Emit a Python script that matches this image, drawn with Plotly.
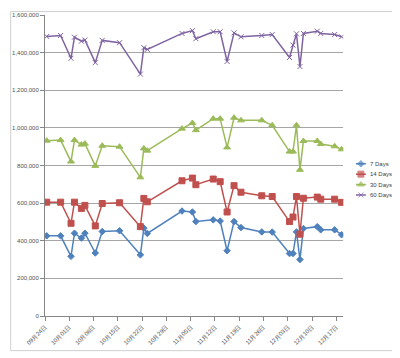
import pandas as pd
import plotly.graph_objects as go

dates = ["2012-09-24", "2012-09-28", "2012-10-01", "2012-10-02", "2012-10-04", "2012-10-05",
         "2012-10-08", "2012-10-10", "2012-10-15", "2012-10-21", "2012-10-22", "2012-10-23",
         "2012-11-02", "2012-11-05", "2012-11-06", "2012-11-11", "2012-11-13", "2012-11-15",
         "2012-11-17", "2012-11-19", "2012-11-25", "2012-11-28", "2012-12-03", "2012-12-04",
         "2012-12-05", "2012-12-06", "2012-12-07", "2012-12-11", "2012-12-12", "2012-12-16",
         "2012-12-18"]

days7 = [426000, 426000, 317000, 440000, 414000, 440000, 335000, 449000, 453000, 325000, 467000,
         439000, 558000, 553000, 502000, 511000, 505000, 347000, 502000, 470000, 447000, 446000,
         332000, 332000, 447000, 300000, 465000, 475000, 458000, 458000, 432000]

days14 = [605000, 605000, 493000, 605000, 572000, 588000, 479000, 598000, 602000, 475000, 625000,
          607000, 719000, 733000, 698000, 728000, 714000, 553000, 693000, 658000, 639000, 635000,
          502000, 526000, 635000, 435000, 626000, 632000, 621000, 621000, 604000]

days30 = [932000, 935000, 821000, 935000, 911000, 916000, 798000, 905000, 900000, 737000, 891000,
          879000, 996000, 1026000, 988000, 1049000, 1049000, 896000, 1054000, 1040000, 1040000,
          1014000, 874000, 874000, 1014000, 777000, 930000, 930000, 914000, 902000, 886000]

days60 = [1486000, 1491000, 1370000, 1482000, 1461000, 1467000, 1347000, 1465000, 1453000,
          1286000, 1426000, 1417000, 1502000, 1517000, 1474000, 1511000, 1511000, 1353000,
          1505000, 1484000, 1491000, 1496000, 1374000, 1440000, 1500000, 1326000, 1502000,
          1514000, 1502000, 1496000, 1484000]

tick_dates = ["2012-09-24", "2012-10-01", "2012-10-08", "2012-10-15", "2012-10-22", "2012-10-29",
              "2012-11-05", "2012-11-12", "2012-11-19", "2012-11-26", "2012-12-03", "2012-12-10",
              "2012-12-17"]
tick_labels = ["09月24日", "10月01日", "10月08日", "10月15日", "10月22日", "10月29日",
               "11月05日", "11月12日", "11月19日", "11月26日", "12月03日", "12月10日",
               "12月17日"]

series_names = ["7 Days", "14 Days", "30 Days", "60 Days"]

# points sit in the middle of each day unit (date axis, between tick marks)
xs = pd.to_datetime(dates) + pd.Timedelta(hours=12)

styles = [
    ("#4F81BD", "diamond", 5),
    ("#C0504D", "square", 6),
    ("#9BBB59", "triangle-up", 6),
    ("#8064A2", "x-thin", 5),
]
values = [days7, days14, days30, days60]

fig = go.Figure()
for name, vals, (color, sym, size) in zip(series_names, values, styles):
    fig.add_trace(go.Scatter(
        x=xs, y=vals, name=name, mode="lines+markers", showlegend=False,
        line=dict(color=color, width=1.5),
        marker=dict(symbol=sym, size=size, color=color,
                    line=dict(color=color, width=1)),
    ))

# compact custom legend drawn on a small auxiliary axis (rows 3..0 top to bottom)
annotations = []
for i, (name, (color, sym, size)) in enumerate(zip(series_names, styles)):
    row = 3 - i
    fig.add_trace(go.Scatter(
        x=[0.7, 5.7, 10.7], y=[row, row, row], xaxis="x2", yaxis="y2",
        mode="lines+markers", showlegend=False, hoverinfo="skip",
        line=dict(color=color, width=1.5),
        marker=dict(symbol=sym, size=[0, size, 0], color=color,
                    line=dict(color=color, width=1)),
    ))
    annotations.append(dict(x=13, y=row, xref="x2", yref="y2", text=name,
                            showarrow=False, xanchor="left", yanchor="middle",
                            font=dict(size=6, color="#404040")))

# the page body adds an 8px offset, so figure coordinates = reference pixels - 8
W, H = 392, 350
L, R, T, B = 35, 5, 4, 42
plot_w = W - L - R   # 352
plot_h = H - T - B   # 304

fig.update_layout(
    width=W, height=H,
    margin=dict(l=L, r=R, t=T, b=B),
    paper_bgcolor="white", plot_bgcolor="white",
    font=dict(family="Liberation Sans, Arial, sans-serif", size=6, color="#404040"),
    showlegend=False,
    annotations=annotations,
    shapes=[dict(type="rect", xref="paper", yref="paper",
                 x0=(0.5 - L) / plot_w, x1=(385 - L) / plot_w,
                 y0=(308 - 343) / plot_h, y1=(308 - 0.5) / plot_h,
                 line=dict(color="#D0D0D0", width=1), fillcolor="rgba(0,0,0,0)", layer="below")],
    xaxis2=dict(domain=[312 / plot_w, 352 / plot_w], range=[0, 40], anchor="y2",
                visible=False, fixedrange=True),
    yaxis2=dict(domain=[(308 - 191) / plot_h, (308 - 149) / plot_h], range=[-0.5, 3.5],
                anchor="x2", visible=False, fixedrange=True),
    xaxis=dict(
        domain=[0, 300 / plot_w],
        type="date",
        range=["2012-09-24", "2012-12-19"],
        tickvals=pd.to_datetime(tick_dates), ticktext=tick_labels,
        tickangle=-45, ticks="outside", ticklen=4, tickcolor="#868686",
        showline=True, linecolor="#868686", linewidth=1,
        showgrid=False, zeroline=False,
        tickfont=dict(size=6, color="#505050"),
    ),
    yaxis=dict(
        range=[0, 1600000], dtick=200000, tickformat=",",
        ticks="outside", ticklen=4, tickcolor="#868686",
        showline=True, linecolor="#868686", linewidth=1,
        showgrid=True, gridcolor="#A6A6A6", gridwidth=1,
        zeroline=False,
        tickfont=dict(size=6, color="#505050"),
    ),
)

fig.write_html("out.html")
